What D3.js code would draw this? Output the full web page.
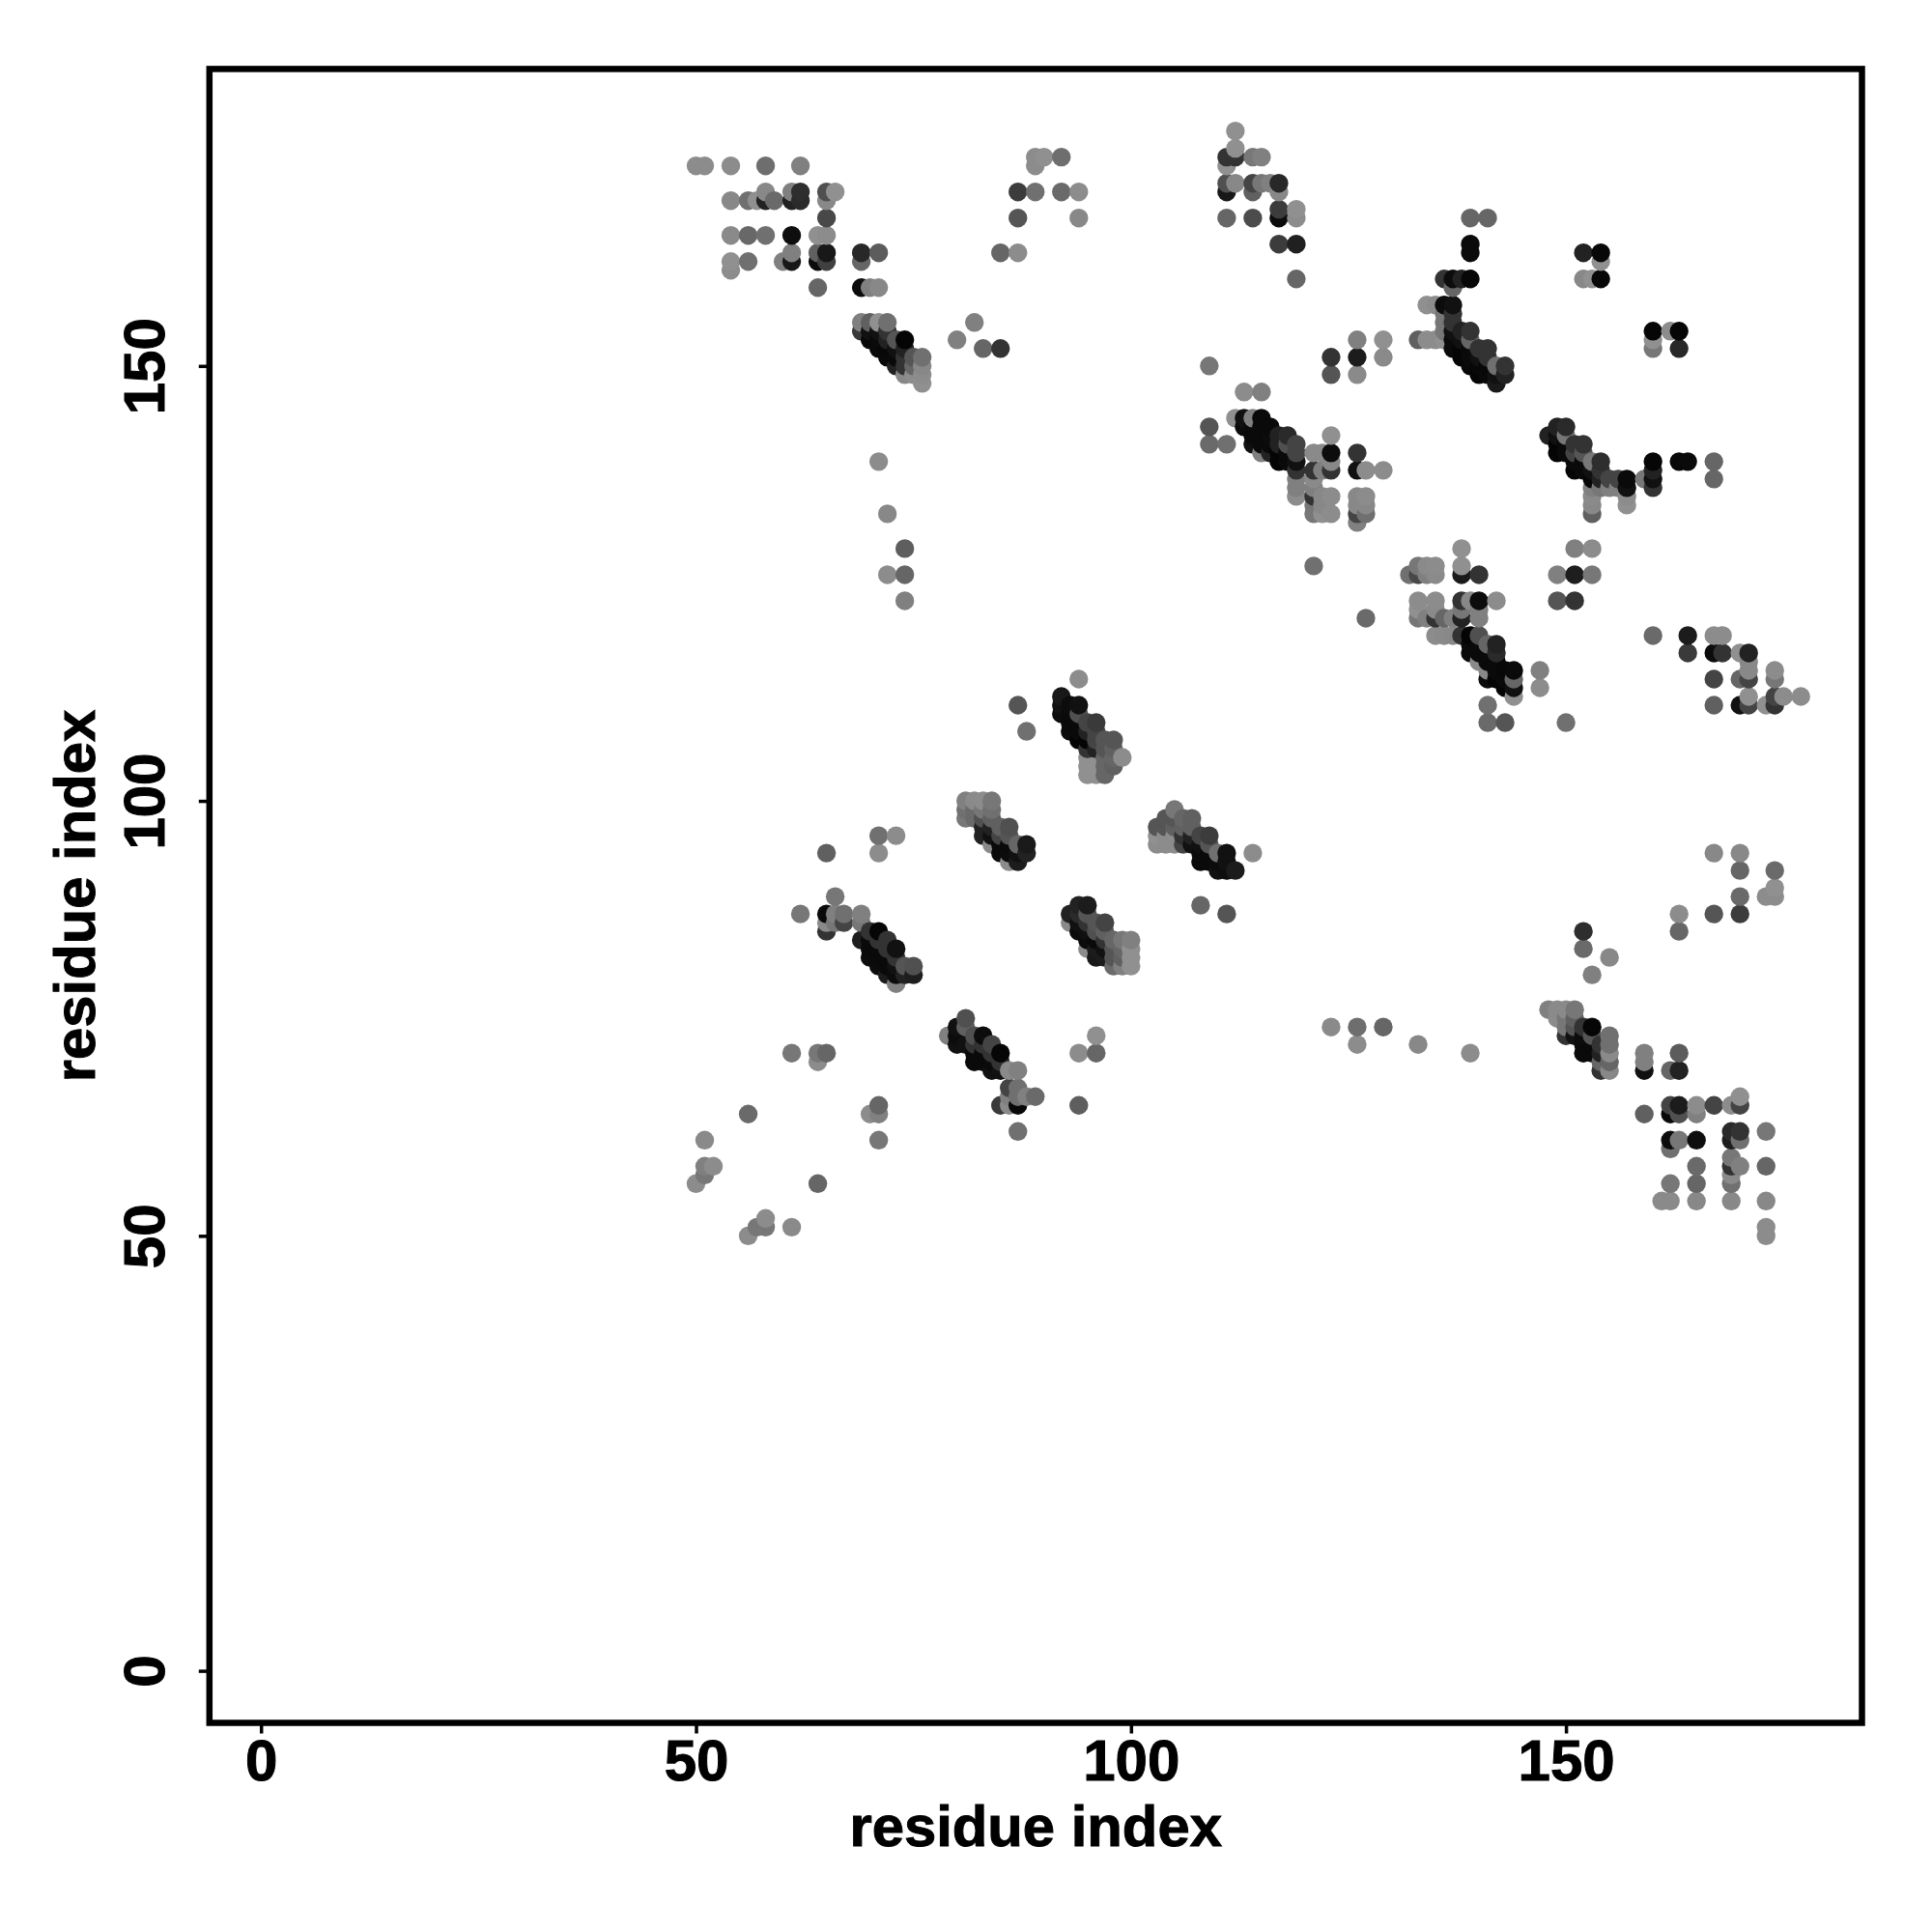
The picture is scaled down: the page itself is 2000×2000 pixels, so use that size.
<!DOCTYPE html>
<html><head><meta charset="utf-8">
<script src="https://d3js.org/d3.v7.min.js"></script>
<style>html,body{margin:0;padding:0;background:#fff}svg{display:block}</style>
</head><body><div id="chart"></div>
<script>
const xTicks=[0,50,100,150], yTicks=[0,50,100,150];
const xTitle="residue index", yTitle="residue index";
// each row: flat pairs of (x residue, gray level) for one y residue
const y177=[112,144];
const y175=[112,144];
const y174=[89,140,90,144,92,110,111,51,112,51,114,120,115,128];
const y173=[50,140,51,140,54,140,58,110,62,128,89,140,111,144];
const y171=[111,80,112,136,114,68,115,119,116,128,117,40];
const y170=[58,136,61,128,62,46,65,80,66,144,87,60,89,112,92,106,94,140,111,24,114,96,117,136];
const y169=[54,136,56,112,57,144,58,34,59,106,61,34,62,42,65,136];
const y168=[117,60,119,144];
const y167=[65,72,87,85,94,136,111,102,114,76,117,12,119,140,139,102,141,102];
const y165=[54,138,56,104,58,112,61,14,64,144,65,140];
const y164=[117,60,119,32,139,10];
const y163=[61,128,64,96,65,24,69,40,71,92,85,102,87,140,139,10,152,34,154,8];
const y162=[54,144,56,112,60,128,61,24,64,12,65,64,69,102,154,144];
const y161=[54,140];
const y160=[119,102,136,51,137,12,138,34,139,8,152,136,153,144,154,8];
const y159=[64,102,69,12,70,128,71,136,137,102];
const y157=[134,144,135,140,136,12,137,17];
const y156=[136,119,137,51];
const y155=[69,128,70,96,71,144,72,112,82,128,136,119,137,51];
const y154=[69,58,70,17,71,17,72,51,136,119,137,17,138,34,139,51,160,6,162,140,163,6];
const y153=[70,8,71,10,72,34,73,85,74,5,80,128,126,128,129,144,133,96,134,140,135,140,136,144,137,10,138,17,139,102,160,144];
const y152=[71,10,72,8,73,17,74,34,83,102,85,51,137,10,138,5,139,10,140,51,141,51,160,119,163,40];
const y151=[72,10,73,10,74,51,75,85,76,112,123,51,126,28,129,138,138,5,139,10,140,17,141,51];
const y150=[73,34,74,51,75,102,76,136,109,119,139,8,140,8,141,8,142,112,143,51];
const y149=[74,136,75,140,76,140,123,85,126,138,140,5,141,10,142,17,143,34];
const y148=[76,144,142,26];
const y147=[113,140,115,128];
const y144=[112,144,113,17,114,128,115,10];
const y143=[109,85,113,12,114,10,115,10,116,10,149,34,150,42];
const y142=[114,10,115,10,116,12,117,34,118,42,123,144,148,34,149,17,150,119];
const y141=[109,106,111,112,114,17,115,10,116,10,117,34,118,80,119,68,149,5,150,10,151,51,152,51];
const y140=[115,128,116,34,117,5,118,10,119,68,121,138,122,138,123,12,126,51,149,5,150,10,151,68,152,85];
const y139=[71,140,117,5,118,10,119,17,123,136,151,10,152,10,153,119,154,46,160,6,163,8,164,10,167,102];
const y138=[119,51,121,51,122,128,123,51,126,17,127,140,129,140,151,6,152,10,153,17,154,51,160,34];
const y137=[119,128,121,138,153,6,154,34,155,68,156,68,157,10,159,119,160,17,167,102];
const y136=[119,128,121,128,153,128,154,119,155,128,156,128,157,17,160,51];
const y135=[119,140,121,51,122,136,123,140,126,136,127,140,153,138,157,140];
const y134=[121,119,122,136,126,136,127,136,153,136,157,144];
const y133=[72,136,121,119,122,144,123,140,126,68,127,112,153,96];
const y132=[126,128];
const y129=[74,94,138,144,151,128,153,140];
const y127=[121,112,133,119,134,138,135,140,138,144];
const y126=[72,140,74,102,132,112,133,72,134,128,135,138,138,26,140,51,149,128,151,30,153,119];
const y123=[74,128,133,140,135,140,138,51,139,136,140,12,142,140,149,85,151,51];
const y122=[133,144,135,138,138,119,140,128];
const y121=[127,106,133,119,134,128,135,51,136,102,137,128,138,34,140,128];
const y119=[135,140,136,138,137,136,138,51,139,5,140,80,160,106,164,28,167,140,168,140];
const y118=[139,10,140,10,141,102,142,34];
const y117=[139,10,140,10,141,10,142,42,164,58,167,12,168,51,170,144,171,34];
const y116=[140,138,141,10,142,10,171,136];
const y115=[141,136,142,10,143,8,144,10,147,128,171,136,174,140];
const y114=[94,140,141,12,142,5,143,10,144,102,167,68,170,102,171,68,174,119];
const y113=[143,5,144,17,147,140];
const y112=[92,24,144,144,171,144,174,68,175,140,177,140];
const y111=[87,85,92,17,93,12,94,17,141,112,167,96,170,17,171,68,173,144,174,51];
const y110=[92,12,93,10,94,80];
const y109=[93,10,94,10,95,68,96,58,141,106,143,85,150,112];
const y108=[88,112,93,12,94,10,95,34,96,68];
const y107=[94,5,95,5,96,68,97,85,98,85];
const y106=[95,51,96,34,97,85,98,96];
const y105=[95,144,97,102,98,102,99,140];
const y104=[95,144,96,144,97,102,98,96];
const y103=[95,144,96,144,97,102];
const y100=[81,128,82,138,83,140,84,119];
const y99=[81,112,82,106,83,119,84,112,105,119];
const y98=[81,119,82,106,83,80,84,96,104,85,105,85,106,102,107,96];
const y97=[83,34,84,34,85,96,86,80,103,85,104,85,105,96,106,96,107,96];
const y96=[71,112,73,140,83,34,84,17,85,68,86,85,103,144,104,140,105,140,106,51,107,34,108,68,109,60];
const y95=[84,138,85,10,86,10,87,102,88,26,103,140,104,140,105,140,106,68,107,17,108,17,109,85];
const y94=[65,96,71,140,85,10,86,12,87,17,88,34,108,12,109,10,110,112,111,17,114,140,167,136,170,136];
const y93=[86,140,87,28,108,10,109,10,110,12,111,17];
const y92=[110,17,111,14,112,28,170,102,174,106];
const y90=[174,144];
const y89=[66,119,170,106,173,140,174,140];
const y88=[94,34,95,28,108,102];
const y87=[62,119,65,10,66,128,67,112,69,128,93,34,94,42,95,85,111,85,163,140,167,85,170,60];
const y86=[65,138,66,119,67,68,69,119,93,138,94,17,95,51,96,85,97,68];
const y85=[65,51,70,51,71,6,94,12,95,17,96,80,97,96,152,46,163,102];
const y84=[69,30,70,10,71,51,72,51,95,12,96,10,97,51,98,102,99,119,100,128];
const y83=[70,10,71,10,72,51,73,17,95,140,96,28,97,17,98,85,99,102,100,144,152,106];
const y82=[70,12,71,10,72,10,73,51,96,24,97,28,98,85,99,96,100,144,155,136];
const y81=[71,12,72,10,73,17,74,85,75,80,98,106,99,128,100,144];
const y80=[72,28,73,12,74,34,75,30,153,128];
const y79=[73,128];
const y76=[148,128,149,138,150,138,151,119];
const y75=[81,80,149,140,150,119,151,96];
const y74=[80,17,81,96,123,138,126,110,129,102,150,119,151,85,152,51,153,6];
const y73=[79,128,80,12,82,80,83,12,96,144,150,51,151,17,152,12,153,85,155,112];
const y72=[80,17,81,17,82,51,83,51,84,68,126,140,133,136,152,10,153,10,154,51,155,112];
const y71=[61,119,64,119,65,102,82,10,83,10,84,51,85,6,94,140,96,102,139,140,152,10,153,10,154,34,155,138,159,128,163,92];
const y70=[64,140,82,10,83,10,84,10,85,51,154,102,155,102,159,128];
const y69=[84,17,85,17,86,138,87,128,154,51,155,136,159,17,162,102,163,34];
const y67=[86,68,87,112];
const y66=[86,128,87,112,88,128,89,106,170,144];
const y65=[71,102,85,58,86,138,87,8,94,94,162,68,163,28,165,140,167,68,169,140,170,68];
const y64=[56,106,70,140,71,128,159,96,162,10,163,80,165,128];
const y62=[87,112,169,42,170,51,173,119];
const y61=[51,138,71,119,162,12,163,119,165,14,169,30,170,112];
const y60=[162,112];
const y59=[169,119];
const y58=[51,128,52,140,165,106,169,51,170,128,173,102];
const y57=[51,119,169,138];
const y56=[50,140,64,102,162,119,165,102,169,112];
const y54=[161,138,162,138,165,136,169,136,173,136];
const y52=[58,140];
const y51=[57,119,58,119,61,138,173,140];
const y50=[56,140,173,140];

const rowTable={177:y177,175:y175,174:y174,173:y173,171:y171,170:y170,169:y169,168:y168,167:y167,165:y165,164:y164,163:y163,162:y162,161:y161,160:y160,159:y159,157:y157,156:y156,155:y155,154:y154,153:y153,152:y152,151:y151,150:y150,149:y149,148:y148,147:y147,144:y144,143:y143,142:y142,141:y141,140:y140,139:y139,138:y138,137:y137,136:y136,135:y135,134:y134,133:y133,132:y132,129:y129,127:y127,126:y126,123:y123,122:y122,121:y121,119:y119,118:y118,117:y117,116:y116,115:y115,114:y114,113:y113,112:y112,111:y111,110:y110,109:y109,108:y108,107:y107,106:y106,105:y105,104:y104,103:y103,100:y100,99:y99,98:y98,97:y97,96:y96,95:y95,94:y94,93:y93,92:y92,90:y90,89:y89,88:y88,87:y87,86:y86,85:y85,84:y84,83:y83,82:y82,81:y81,80:y80,79:y79,76:y76,75:y75,74:y74,73:y73,72:y72,71:y71,70:y70,69:y69,67:y67,66:y66,65:y65,64:y64,62:y62,61:y61,60:y60,59:y59,58:y58,57:y57,56:y56,54:y54,52:y52,51:y51,50:y50};

const points=[];
Object.keys(rowTable).forEach(k=>{const r=rowTable[k];for(let i=0;i<r.length;i+=2)points.push({x:r[i],y:+k,g:r[i+1]});});
points.sort((a,b)=>d3.ascending(a.x,b.x)||d3.ascending(a.y,b.y));

const F={l:216.8,r:1927.5,t:71.4,b:1783.5};
const x=d3.scaleLinear().domain([0,150]).range([270.2,1621.1]);
const y=d3.scaleLinear().domain([0,150]).range([1729.6,378.8]);
const shade=d3.scaleLinear().domain([0,255]).range(["#000000","#ffffff"]);
const svg=d3.select("#chart").append("svg").attr("width",2000).attr("height",2000);
svg.append("rect").attr("width",2000).attr("height",2000).attr("fill","#fff");
const font='"Liberation Sans",Arial,sans-serif';

svg.append("g").selectAll("circle").data(points).join("circle")
 .attr("cx",d=>x(d.x)).attr("cy",d=>y(d.y)).attr("r",9.7).attr("fill",d=>shade(d.g));

const ax=svg.append("g").attr("transform",`translate(0,${F.b})`)
 .call(d3.axisBottom(x).tickValues(xTicks).tickFormat(d3.format("d")).tickSize(11).tickPadding(9));
const ay=svg.append("g").attr("transform",`translate(${F.l},0)`)
 .call(d3.axisLeft(y).tickValues(yTicks).tickFormat(d3.format("d")).tickSize(11));
[ax,ay].forEach(g=>{g.select(".domain").remove();
 g.selectAll("line").attr("stroke","#000").attr("stroke-width",3.5);
 g.selectAll("text").attr("fill","#000").attr("stroke","#000").attr("stroke-width",1)
  .style("font-family",font).style("font-weight","700").style("font-size","60px");});
ax.selectAll("text").attr("y",null).attr("dy",null).attr("text-anchor","middle")
 .attr("transform","translate(0,59)");
ay.selectAll("text").attr("x",null).attr("dy",null).attr("text-anchor","middle")
 .attr("transform","translate(-46.8,0) rotate(-90)");

svg.append("rect").attr("x",F.l).attr("y",F.t).attr("width",F.r-F.l).attr("height",F.b-F.t)
 .attr("fill","none").attr("stroke","#000").attr("stroke-width",6.5);

svg.append("text").attr("x",(F.l+F.r)/2).attr("y",1911).attr("text-anchor","middle")
 .attr("stroke","#000").attr("stroke-width",1)
 .style("font-family",font).style("font-weight","700").style("font-size","59.8px").text(xTitle);
svg.append("text").attr("transform",`translate(98,${(F.t+F.b)/2}) rotate(-90)`).attr("text-anchor","middle")
 .attr("stroke","#000").attr("stroke-width",1)
 .style("font-family",font).style("font-weight","700").style("font-size","59.8px").text(yTitle);
</script></body></html>
